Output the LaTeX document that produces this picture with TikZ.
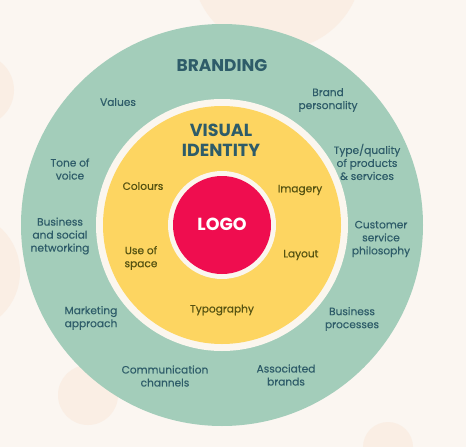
\documentclass[tikz,border=0pt]{standalone}
\usepackage{fontspec}
\setmainfont{Poppins}
\newfontfamily\labelfont{Poppins}[FakeBold=0.35]
\usepackage{xcolor}

\definecolor{bgcream}{HTML}{FBF6F1}
\definecolor{peach}{HTML}{FAEEE4}
\definecolor{sage}{HTML}{A3CDBA}
\definecolor{ringwhite}{HTML}{FBF6EE}
\definecolor{sunny}{HTML}{FDD561}
\definecolor{logored}{HTML}{EF0D4F}
\definecolor{tealtext}{HTML}{2E5C69}
\definecolor{olivetext}{HTML}{555211}

\begin{document}
\begin{tikzpicture}[
			x=1pt, y=-1pt,
			outer/.style={text=tealtext, align=center, font=\labelfont\fontsize{10.6}{13}\selectfont},
			inner/.style={text=olivetext, align=center, font=\labelfont\fontsize{10.6}{13}\selectfont},
			title/.style={text=tealtext, align=center, font=\bfseries\fontsize{17}{20}\selectfont}]
			% background and faint spots
			\fill[bgcream] (0,0) rectangle (466,447);
			\useasboundingbox (0,0) rectangle (466,447);
			\fill[peach] (277,-35) circle (85);
			\fill[peach] (-22,90) circle (36);
			\fill[peach] (-40,272) circle (60);
			\fill[peach] (88,395) circle (30);
			\fill[peach] (388,447) circle (25);
			% rings
			\fill[sage] (222,225) circle (201);
			\fill[ringwhite] (222,225) circle (126);
			\fill[sunny] (222,225) circle (119);
			\fill[ringwhite] (222,225) circle (54);
			\fill[logored] (222,225) circle (49);
			% branding ring
			\node[title] (branding) at (222,66) {BRANDING};
			\node[outer] (values) at (118,102) {Values};
			\node[outer] (personality) at (328,100) {Brand\\personality};
			\node[outer] (quality) at (367,162) {Type/quality\\of products\\\& services};
			\node[outer] (tone) at (70,169) {Tone of\\voice};
			\node[outer] (networking) at (60,236) {Business\\and social\\networking};
			\node[outer] (customer) at (381,239) {Customer\\service\\philosophy};
			\node[outer] (marketing) at (91,318) {Marketing\\approach};
			\node[outer] (processes) at (352,319) {Business\\processes};
			\node[outer] (channels) at (165,376) {Communication\\channels};
			\node[outer] (associated) at (286,375) {Associated\\brands};
			% visual identity ring
			\node[title, font=\bfseries\fontsize{17.5}{20}\selectfont] (identity) at (221,140) {VISUAL\\IDENTITY};
			\node[inner] (colours) at (143,186) {Colours};
			\node[inner] (imagery) at (300,190) {Imagery};
			\node[inner] (space) at (141,258) {Use of\\space};
			\node[inner] (layout) at (301,255) {Layout};
			\node[inner] (typography) at (222,310) {Typography};
			% centre
			\node[text=white, font=\bfseries\fontsize{17.5}{20}\selectfont] (logo) at (222,224) {LOGO};
		\end{tikzpicture}
\end{document}
